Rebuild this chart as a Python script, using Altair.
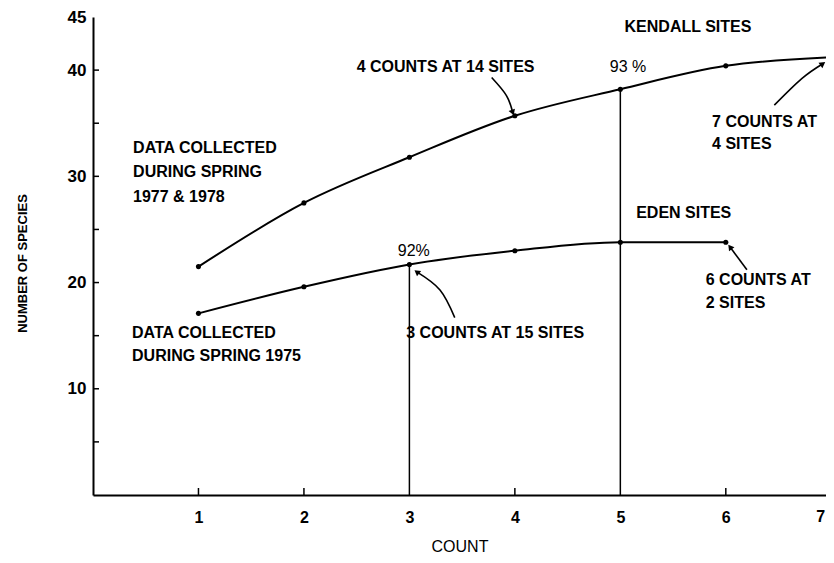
import math
import altair as alt
import pandas as pd

# ---- data ----
counts_kendall = [1, 2, 3, 4, 5, 6, 7]
kendall_species = [21.5, 27.5, 31.8, 35.7, 38.2, 40.4, 41.2]
counts_eden = [1, 2, 3, 4, 5, 6]
eden_species = [17.1, 19.6, 21.7, 23.0, 23.8, 23.8]

# reference lines (count, species at curve)
drop_counts = [3, 5]
drop_tops = [21.7, 38.2]

y_tick_values = [5, 10, 15, 20, 25, 30, 35, 40, 45]
x_tick_values = [1, 2, 3, 4, 5, 6]
x_edge_label = [7]
x_inner_ticks = [1, 2, 4, 6]
y_inner_ticks = [5, 10, 15, 20, 25, 30, 35, 40]

bold_texts = ["KENDALL SITES", "4 COUNTS AT 14 SITES", "7 COUNTS AT", "4 SITES",
              "DATA COLLECTED", "DURING SPRING", "1977 & 1978", "EDEN SITES",
              "6 COUNTS AT", "2 SITES", "3 COUNTS AT 15 SITES",
              "DATA COLLECTED", "DURING SPRING 1975"]
bold_x = [5.04, 2.50, 5.87, 5.87, 0.38, 0.38, 0.38, 5.15, 5.81, 5.81, 2.97, 0.37, 0.37]
bold_y = [44.1, 40.3, 35.1, 33.0, 32.7, 30.4, 28.1, 26.55, 20.2, 18.1, 15.25, 15.25, 13.1]

plain_texts = ["93 %", "92%"]
plain_x = [4.90, 2.89]
plain_y = [40.3, 23.0]

# annotation arrows: (id, x list, y list)
arrow_ids = ["a1", "a2", "a3", "a4"]
arrow_x = [[3.78, 3.92, 3.98], [6.46, 6.72, 6.92], [6.20, 6.04], [3.43, 3.29, 3.07]]
arrow_y = [[39.3, 37.6, 36.0], [36.7, 39.2, 40.6], [21.2, 23.35], [16.7, 19.3, 21.0]]

W, H = 733, 478
XMAX, YMAX = 6.95, 45

# ---- tables ----
curves = pd.concat([
    pd.DataFrame({"count": counts_kendall, "species": kendall_species, "site": "Kendall"}),
    pd.DataFrame({"count": counts_eden, "species": eden_species, "site": "Eden"}),
])
drops = pd.DataFrame({"count": drop_counts, "top": drop_tops, "bottom": [0, 0]})
bold_df = pd.DataFrame({"t": bold_texts, "x": bold_x, "y": bold_y})
plain_df = pd.DataFrame({"t": plain_texts, "x": plain_x, "y": plain_y})

rows, heads = [], []
for aid, xs_, ys_ in zip(arrow_ids, arrow_x, arrow_y):
    for i, (xx, yy) in enumerate(zip(xs_, ys_)):
        rows.append({"id": aid, "o": i, "x": xx, "y": yy})
    dx = (xs_[-1] - xs_[-2]) * W / XMAX
    dy = -(ys_[-1] - ys_[-2]) * H / YMAX
    ang = math.degrees(math.atan2(dx, -dy)) % 360
    heads.append({"x": xs_[-1], "y": ys_[-1], "ang": ang})
arrows_df = pd.DataFrame(rows)
heads_df = pd.DataFrame(heads)

xs = alt.Scale(domain=[0, XMAX], nice=False)
ys = alt.Scale(domain=[0, YMAX], nice=False)
FONT = "Liberation Sans"

base_x = alt.X("count:Q", scale=xs, axis=alt.Axis(
    values=x_tick_values, title="COUNT", ticks=False, grid=False,
    domainColor="black", domainWidth=2, labelFont=FONT, labelFontWeight="bold",
    labelFontSize=16, labelColor="black", labelPadding=14, format="d",
    titleFont=FONT, titleFontWeight="normal", titleFontSize=16, titleColor="black",
    titlePadding=13))
base_y = alt.Y("species:Q", scale=ys, axis=alt.Axis(
    values=y_tick_values, title="NUMBER OF SPECIES", ticks=False, grid=False,
    labelExpr="(datum.value % 10 == 0 || datum.value == 45) ? datum.label : ''",
    domainColor="black", domainWidth=2, labelFont=FONT, labelFontWeight="bold",
    labelFontSize=17, labelColor="black", labelPadding=7,
    titleFont=FONT, titleFontWeight="bold", titleFontSize=13, titleColor="black",
    titlePadding=38, titleY=246))

lines = alt.Chart(curves).mark_line(color="black", strokeWidth=2, interpolate="monotone",
                                    clip=True).encode(
    x=base_x, y=base_y, detail="site:N")
pts = alt.Chart(curves).mark_circle(color="black", size=26, opacity=1, clip=True).encode(
    x=alt.X("count:Q", scale=xs), y=alt.Y("species:Q", scale=ys))
drop_rules = alt.Chart(drops).mark_rule(color="black", strokeWidth=1.5).encode(
    x=alt.X("count:Q", scale=xs), y=alt.Y("bottom:Q", scale=ys), y2="top:Q")

ytk = alt.Chart(pd.DataFrame({"v": y_inner_ticks})).mark_rule(color="black", strokeWidth=1.5).encode(
    y=alt.Y("v:Q", scale=ys), x=alt.value(0), x2=alt.value(6))
xtk = alt.Chart(pd.DataFrame({"v": x_inner_ticks})).mark_rule(color="black", strokeWidth=1.5).encode(
    x=alt.X("v:Q", scale=xs), y=alt.value(H), y2=alt.value(H - 7))
edge_lab = alt.Chart(pd.DataFrame({"v": x_edge_label})).mark_text(
    font=FONT, fontWeight="bold", fontSize=16, color="black", baseline="top", align="right",
    dx=-6).encode(
    x=alt.X("v:Q", scale=xs), y=alt.value(H + 14), text=alt.Text("v:Q", format="d"))

arrow_lines = alt.Chart(arrows_df).mark_line(color="black", strokeWidth=1.6, interpolate="cardinal",
                                             clip=True).encode(
    x=alt.X("x:Q", scale=xs), y=alt.Y("y:Q", scale=ys), detail="id:N", order="o:Q")
arrow_heads = alt.Chart(heads_df).mark_point(shape="triangle-up", filled=True, color="black",
                                             size=45, opacity=1, clip=True).encode(
    x=alt.X("x:Q", scale=xs), y=alt.Y("y:Q", scale=ys), angle=alt.Angle("ang:Q", scale=None))

btext = alt.Chart(bold_df).mark_text(font=FONT, fontWeight="bold", fontSize=16, align="left",
                                     baseline="middle", color="black").encode(
    x=alt.X("x:Q", scale=xs), y=alt.Y("y:Q", scale=ys), text="t:N")
ptext = alt.Chart(plain_df).mark_text(font=FONT, fontWeight="normal", fontSize=16, align="left",
                                      baseline="middle", color="black").encode(
    x=alt.X("x:Q", scale=xs), y=alt.Y("y:Q", scale=ys), text="t:N")

chart = alt.layer(lines, drop_rules, ytk, xtk, pts, arrow_lines, arrow_heads, btext, ptext,
                  edge_lab).properties(
    width=W, height=H,
    autosize=alt.AutoSizeParams(type="none"),
    padding={"left": 85, "top": 9, "right": 0, "bottom": 60},
    background="white",
).configure_view(stroke=None)

chart.save("out.html", embed_options={"renderer": "svg", "actions": False})
